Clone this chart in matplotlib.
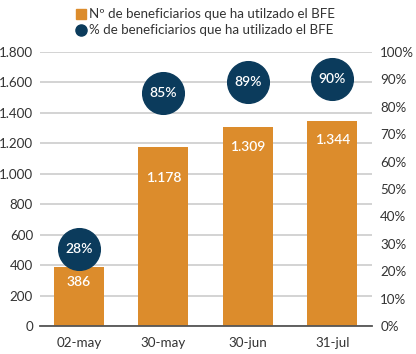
import matplotlib
matplotlib.use("Agg")
import matplotlib.pyplot as plt
from matplotlib.lines import Line2D

plt.rcParams['font.family'] = ['Lato', 'DejaVu Sans']

categories = ["02-may", "30-may", "30-jun", "31-jul"]
beneficiarios = [386, 1178, 1309, 1344]
porcentaje = [28, 85, 89, 90]
left_ticks = [0, 200, 400, 600, 800, 1000, 1200, 1400, 1600, 1800]
left_labels = ["0", "200", "400", "600", "800", "1.000", "1.200", "1.400", "1.600", "1.800"]
right_ticks = [0, 10, 20, 30, 40, 50, 60, 70, 80, 90, 100]
right_labels = [f"{v}%" for v in right_ticks]
legend_labels = ["Nº de beneficiarios que ha utilzado el BFE",
                 "% de beneficiarios que ha utilizado el BFE"]

ORANGE = "#dc8c2c"
NAVY = "#0b3b5c"
TXT = "#333333"
FS = 9.6
label_drop_px = [15, 31, 20, 19]  # label offset below bar top (style)

W, H = 416, 354
fig = plt.figure(figsize=(W / 100, H / 100), dpi=100)
ax = fig.add_axes([40 / W, (H - 326) / H, 332 / W, 274 / H])
x = list(range(len(categories)))
bars = ax.bar(x, beneficiarios, width=0.59, color=ORANGE, zorder=2)
ax.set_xlim(-0.46, 3.47)
ax.set_ylim(0, 1800)
ax.set_yticks(left_ticks)
ax.set_yticklabels(left_labels)
ax.set_xticks(x)
ax.set_xticklabels(categories)
ax.grid(axis='y', color="#d0d0d0", linewidth=1.3, zorder=0)
for s in ["top", "right", "left"]:
    ax.spines[s].set_visible(False)
ax.spines["bottom"].set_color("#555555")
ax.spines["bottom"].set_linewidth(1.3)
ax.spines["bottom"].set_zorder(3)
ax.tick_params(axis='both', length=0, labelsize=FS, labelcolor=TXT)
ax.tick_params(axis='y', pad=5)
ax.tick_params(axis='x', pad=8)

for xi, v, d in zip(x, beneficiarios, label_drop_px):
    lab = f"{v:,}".replace(",", ".")
    ax.annotate(lab, (xi, v), xytext=(0, -d * 0.72), textcoords="offset points",
                ha="center", va="center", color="white", fontsize=10,
                fontweight="semibold", zorder=4)

ax2 = ax.twinx()
ax2.set_ylim(0, 100)
ax2.set_yticks(right_ticks)
ax2.set_yticklabels(right_labels)
for s in ["top", "right", "left", "bottom"]:
    ax2.spines[s].set_visible(False)
ax2.tick_params(axis='y', length=0, labelsize=FS, labelcolor=TXT, pad=6)
ax2.plot(x, porcentaje, linestyle="none", marker="o", markersize=30,
         color=NAVY, zorder=5)
for xi, p in zip(x, porcentaje):
    ax2.text(xi, p, f"{p}%", ha="center", va="center", color="white",
             fontsize=10, fontweight="semibold", zorder=6)

handles = [Line2D([], [], linestyle="none", marker="s", markersize=7, color=ORANGE),
           Line2D([], [], linestyle="none", marker="o", markersize=8, color=NAVY)]
fig.legend(handles, legend_labels, loc="upper left", bbox_to_anchor=(66 / W, 1 + 1 / H),
           frameon=False, fontsize=FS, handlelength=0.8, handletextpad=0.25,
           labelspacing=0.3, borderpad=0.2, labelcolor=TXT)

fig.savefig("out.png", dpi=100)
